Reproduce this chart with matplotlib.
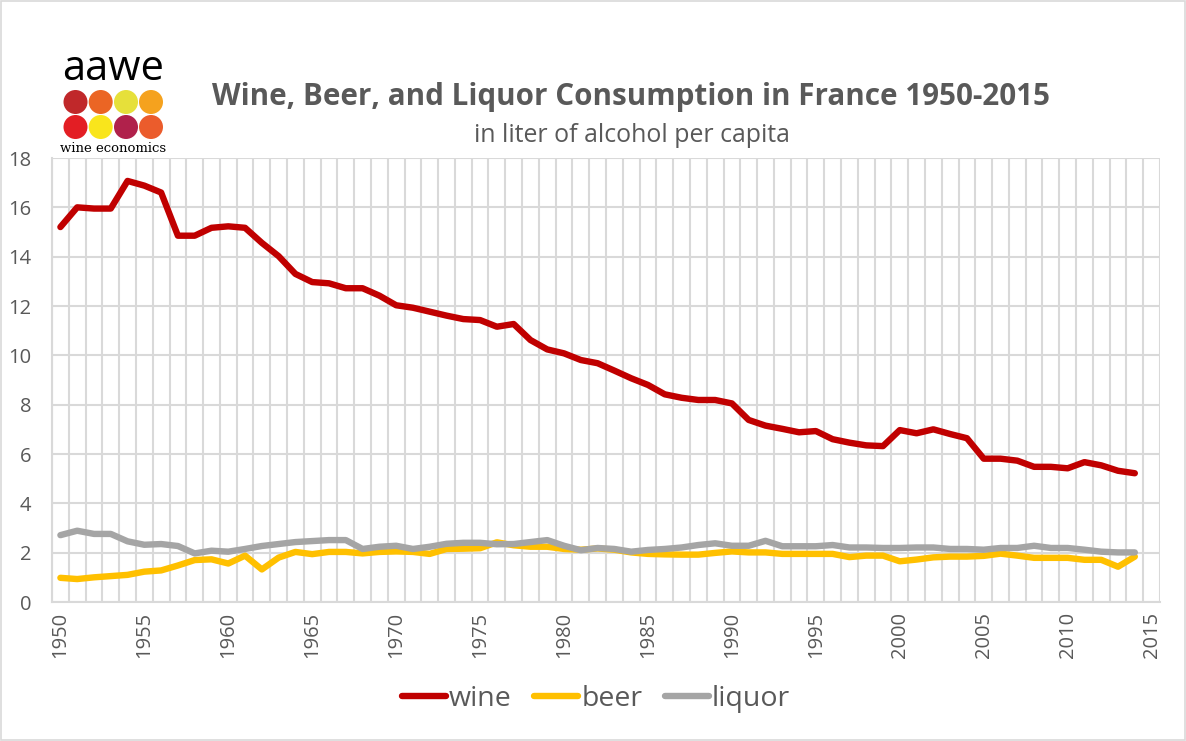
import matplotlib
matplotlib.use("Agg")
import matplotlib.pyplot as plt
from matplotlib.patches import Circle, Rectangle
from matplotlib.lines import Line2D

years = list(range(1950, 2015))

wine = [15.2, 16.0, 15.95, 15.95, 17.07, 16.88, 16.6, 14.85, 14.85, 15.17,
        15.23, 15.17, 14.56, 14.02, 13.3, 12.97, 12.92, 12.72, 12.72, 12.42,
        12.03, 11.93, 11.77, 11.61, 11.47, 11.43, 11.16, 11.27, 10.62, 10.24,
        10.08, 9.81, 9.68, 9.38, 9.07, 8.8, 8.42, 8.28, 8.19, 8.19,
        8.05, 7.38, 7.15, 7.02, 6.88, 6.93, 6.6, 6.46, 6.35, 6.32,
        6.97, 6.84, 7.0, 6.81, 6.64, 5.81, 5.81, 5.73, 5.48, 5.48,
        5.42, 5.67, 5.54, 5.32, 5.22]

beer = [0.98, 0.93, 1.0, 1.05, 1.1, 1.23, 1.28, 1.48, 1.7, 1.73,
        1.56, 1.88, 1.32, 1.8, 2.03, 1.94, 2.03, 2.03, 1.97, 2.03,
        2.05, 2.03, 1.95, 2.15, 2.16, 2.18, 2.42, 2.3, 2.24, 2.24,
        2.15, 2.12, 2.17, 2.12, 2.01, 1.95, 1.93, 1.92, 1.92, 1.99,
        2.05, 2.01, 2.01, 1.95, 1.95, 1.95, 1.95, 1.82, 1.88, 1.88,
        1.65, 1.72, 1.81, 1.84, 1.84, 1.87, 1.96, 1.88, 1.79, 1.79,
        1.79, 1.71, 1.71, 1.43, 1.84]

liquor = [2.71, 2.89, 2.76, 2.76, 2.46, 2.32, 2.35, 2.27, 1.97, 2.08,
          2.04, 2.15, 2.27, 2.35, 2.43, 2.47, 2.51, 2.51, 2.15, 2.24,
          2.28, 2.15, 2.24, 2.36, 2.4, 2.4, 2.34, 2.35, 2.43, 2.51,
          2.28, 2.1, 2.19, 2.15, 2.04, 2.11, 2.15, 2.21, 2.31, 2.38,
          2.28, 2.28, 2.48, 2.26, 2.26, 2.26, 2.31, 2.21, 2.21, 2.19,
          2.19, 2.21, 2.21, 2.15, 2.15, 2.12, 2.19, 2.19, 2.28, 2.19,
          2.19, 2.12, 2.04, 2.01, 2.01]

series_names = ["wine", "beer", "liquor"]
series_colors = ["#C00000", "#FFC000", "#A5A5A5"]
x_tick_years = list(range(1950, 2016, 5))
y_ticks = list(range(0, 19, 2))

FONT = ["Open Sans", "DejaVu Sans"]
TXT = "#595959"
GRID = "#D9D9D9"

W, H = 1186, 741
fig = plt.figure(figsize=(W / 100, H / 100), dpi=100)
fig.patch.set_facecolor("white")

ax = fig.add_axes([52 / W, 1 - 602 / H, 1108 / W, 444 / H])
for s, c, name in zip([wine, beer, liquor], series_colors, series_names):
    ax.plot(years, s, color=c, lw=4.6, solid_capstyle="round",
            solid_joinstyle="round", label=name, zorder=3)

ax.set_xlim(1949.5, 2015.5)
ax.set_ylim(0, 18)
ax.set_xticks(x_tick_years)
ax.set_xticks([1949.5 + k for k in range(67)], minor=True)
ax.set_yticks(y_ticks)
ax.grid(which="minor", axis="x", color=GRID, lw=1.5, zorder=0)
ax.grid(which="major", axis="y", color=GRID, lw=1.5, zorder=0)
ax.grid(which="major", axis="x", visible=False)
ax.tick_params(which="both", length=0)
ax.tick_params(axis="y", pad=15, labelsize=14.5, labelcolor=TXT)
ax.tick_params(axis="x", pad=7, labelsize=14.5, labelcolor=TXT, rotation=90)
for lab in ax.get_xticklabels() + ax.get_yticklabels():
    lab.set_family(FONT)
for sp in ["top", "right"]:
    ax.spines[sp].set_visible(False)
for sp in ["left", "bottom"]:
    ax.spines[sp].set_color(GRID)
    ax.spines[sp].set_linewidth(1.5)

# Title and subtitle
fig.text(631 / W, 1 - 97 / H, "Wine, Beer, and Liquor Consumption in France 1950-2015",
         ha="center", va="center", fontsize=21.3, fontweight="bold", color=TXT, family=FONT)
fig.text(632 / W, 1 - 136 / H, "in liter of alcohol per capita",
         ha="center", va="center", fontsize=17.9, color=TXT, family=FONT)

# Legend
handles = [Line2D([0], [0], color=c, lw=4.6, solid_capstyle="round") for c in series_colors]
leg = fig.legend(handles, series_names, loc="center", bbox_to_anchor=(596 / W, 1 - 699 / H),
                 ncol=3, frameon=False, handlelength=1.55, handletextpad=0.1,
                 columnspacing=0.8, prop={"family": FONT, "size": 20.5})
for t in leg.get_texts():
    t.set_color(TXT)

# Overlay for logo and border
ov = fig.add_axes([0, 0, 1, 1])
ov.set_xlim(0, W)
ov.set_ylim(H, 0)
ov.axis("off")
ov.patch.set_visible(False)
ov.add_patch(Rectangle((1, 1), W - 2, H - 2, fill=False, edgecolor="#D9D9D9", lw=1.2))
ov.text(113, 69, "aawe", ha="center", va="center", fontsize=30, color="black",
        family=["Open Sans", "DejaVu Sans"])
row1 = ["#C0282A", "#EB6524", "#E6E03A", "#F5A21E"]
row2 = ["#E31E24", "#F9E51C", "#B0214B", "#EB5C2C"]
xs = [75.5, 100.7, 126, 151]
for xc, c in zip(xs, row1):
    ov.add_patch(Circle((xc, 102), 12, color=c, lw=0))
for xc, c in zip(xs, row2):
    ov.add_patch(Circle((xc, 127), 12, color=c, lw=0))
ov.text(113, 148, "wine economics", ha="center", va="center", fontsize=9.5,
        color="black", family=["DejaVu Serif"])

fig.savefig("out.png", dpi=100, facecolor="white")
